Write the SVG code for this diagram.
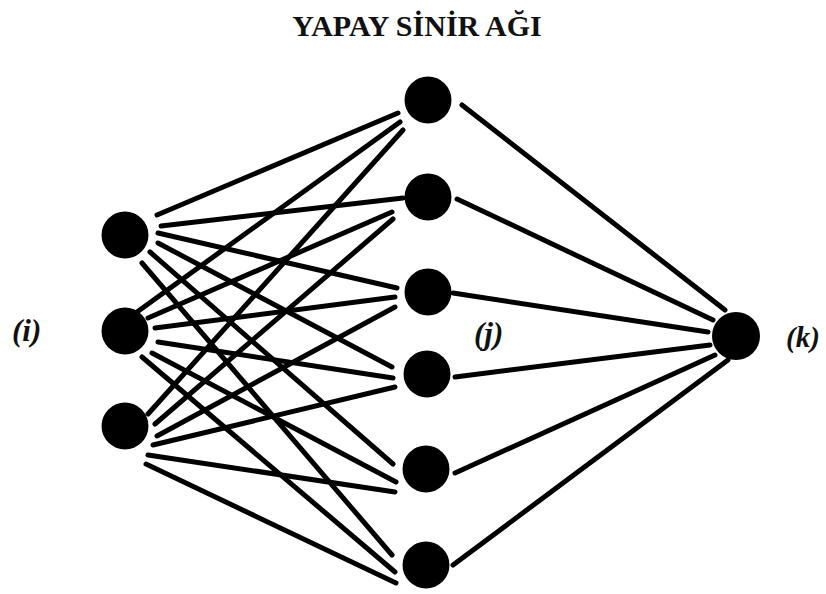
<svg xmlns="http://www.w3.org/2000/svg" width="826" height="594" viewBox="0 0 826 594">
<style>
.node{fill:#000}
.edge{stroke:#000;stroke-width:5;stroke-linecap:round;fill:none}
.title{font-family:"Liberation Serif","Times New Roman",serif;font-weight:bold;font-size:30px;fill:#111}
.lbl{font-family:"Liberation Serif","Times New Roman",serif;font-weight:bold;font-style:italic;font-size:31px;fill:#111}
</style>
<rect width="826" height="594" fill="#fff"/>
<text class="title" x="417" y="36" text-anchor="middle">YAPAY SİNİR AĞI</text>
<g id="connectors">
<line class="edge" x1="157" y1="215" x2="398" y2="113"/>
<line class="edge" x1="161" y1="226" x2="403" y2="198"/>
<line class="edge" x1="158" y1="233" x2="397" y2="288"/>
<line class="edge" x1="158" y1="243" x2="392" y2="367"/>
<line class="edge" x1="150" y1="252" x2="393" y2="464"/>
<line class="edge" x1="142" y1="263" x2="392" y2="555"/>
<line class="edge" x1="137" y1="312" x2="400" y2="122"/>
<line class="edge" x1="148" y1="318" x2="392" y2="212"/>
<line class="edge" x1="155" y1="328" x2="395" y2="297"/>
<line class="edge" x1="158" y1="342" x2="393" y2="378"/>
<line class="edge" x1="152" y1="353" x2="396" y2="482"/>
<line class="edge" x1="142" y1="357" x2="395" y2="572"/>
<line class="edge" x1="148" y1="414" x2="403" y2="130"/>
<line class="edge" x1="155" y1="424" x2="393" y2="219"/>
<line class="edge" x1="157" y1="436" x2="395" y2="307"/>
<line class="edge" x1="153" y1="445" x2="395" y2="387"/>
<line class="edge" x1="148" y1="455" x2="395" y2="492"/>
<line class="edge" x1="146" y1="464" x2="396" y2="583"/>
<line class="edge" x1="462" y1="105" x2="725" y2="310"/>
<line class="edge" x1="457" y1="199" x2="713" y2="320"/>
<line class="edge" x1="453" y1="293" x2="708" y2="332"/>
<line class="edge" x1="455" y1="377" x2="710" y2="345"/>
<line class="edge" x1="455" y1="473" x2="715" y2="355"/>
<line class="edge" x1="453" y1="565" x2="728" y2="360"/>
</g>
<g id="i1"><circle class="node" cx="125" cy="235" r="23.5"/></g>
<g id="i2"><circle class="node" cx="125" cy="331" r="23.5"/></g>
<g id="i3"><circle class="node" cx="125" cy="426" r="23.5"/></g>
<g id="h1"><circle class="node" cx="428" cy="100" r="23.5"/></g>
<g id="h2"><circle class="node" cx="428" cy="197" r="23.5"/></g>
<g id="h3"><circle class="node" cx="428" cy="292" r="23.5"/></g>
<g id="h4"><circle class="node" cx="427" cy="374" r="23.5"/></g>
<g id="h5"><circle class="node" cx="426" cy="469" r="23.5"/></g>
<g id="h6"><circle class="node" cx="426" cy="565" r="23.5"/></g>
<g id="k1"><circle class="node" cx="736" cy="336" r="24"/></g>
<text class="lbl" x="12" y="341">(i)</text>
<text class="lbl" x="474" y="344">(j)</text>
<text class="lbl" x="786" y="347" style="font-size:29px">(k)</text>
</svg>
